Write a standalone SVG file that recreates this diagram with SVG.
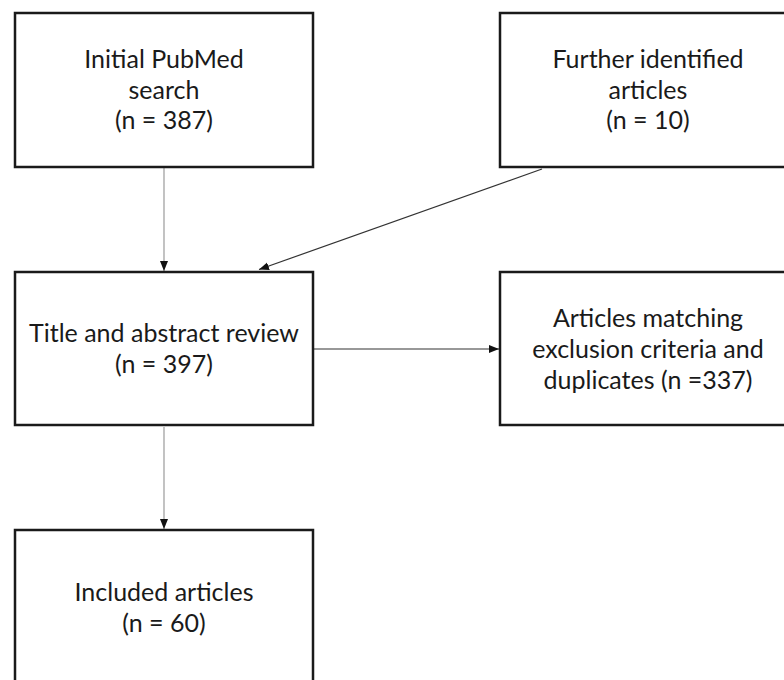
<svg xmlns="http://www.w3.org/2000/svg" width="784" height="680" viewBox="0 0 784 680">
<style>
.box{fill:#fff;stroke:#1a1a1a;stroke-width:2.5}
.t{font-family:Lato,"Liberation Sans",sans-serif;font-size:25px;fill:#1a1a1a;text-anchor:middle}
.c{fill:none;stroke-width:1.2}
.g{stroke:#9a9a9a}
.k{stroke:#333}
</style>
<defs>
<marker id="ah" markerUnits="userSpaceOnUse" markerWidth="10" markerHeight="10" viewBox="0 0 10 10" refX="10" refY="5" orient="auto">
<path d="M0,1 L10,5 L0,9 Z" fill="#111"/>
</marker>
</defs>
<rect width="784" height="680" fill="#fff"/>
<g id="connectors">
<line class="c g" x1="164" y1="168" x2="164" y2="271" marker-end="url(#ah)"/>
<line class="c k" x1="542" y1="169" x2="259" y2="269.5" marker-end="url(#ah)"/>
<line class="c k" x1="314" y1="349" x2="499" y2="349" marker-end="url(#ah)"/>
<line class="c g" x1="164" y1="427" x2="164" y2="529" marker-end="url(#ah)"/>
</g>
<g id="n1">
<rect class="box" x="15" y="13" width="298" height="154"/>
<text class="t" x="164" y="68">Initial PubMed</text>
<text class="t" x="164" y="99">search</text>
<text class="t" x="164" y="129">(n = 387)</text>
</g>
<g id="n2">
<rect class="box" x="500" y="13" width="300" height="154"/>
<text class="t" x="648" y="68">Further identified</text>
<text class="t" x="648" y="99">articles</text>
<text class="t" x="648" y="129">(n = 10)</text>
</g>
<g id="n3">
<rect class="box" x="15" y="272" width="298" height="153"/>
<text class="t" x="164" y="342">Title and abstract review</text>
<text class="t" x="164" y="373">(n = 397)</text>
</g>
<g id="n4">
<rect class="box" x="500" y="272" width="300" height="153"/>
<text class="t" x="648" y="327">Articles matching</text>
<text class="t" x="648" y="358">exclusion criteria and</text>
<text class="t" x="648" y="389">duplicates (n =337)</text>
</g>
<g id="n5">
<rect class="box" x="15" y="530" width="298" height="170"/>
<text class="t" x="164" y="601">Included articles</text>
<text class="t" x="164" y="632">(n = 60)</text>
</g>
</svg>
